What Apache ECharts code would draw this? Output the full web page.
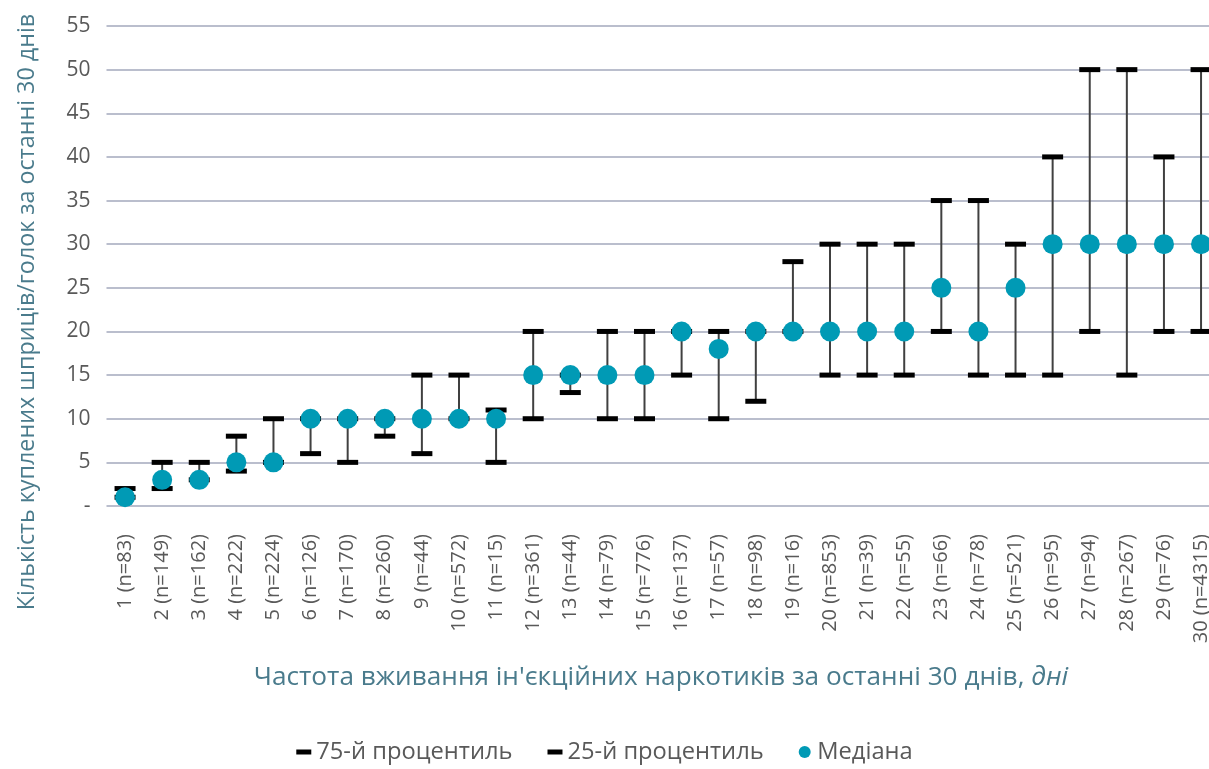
<!DOCTYPE html>
<html lang="uk">
<head>
  <meta charset="utf-8">
  <title>Шприци/голки за частотою вживання</title>
  <script src="https://cdn.jsdelivr.net/npm/echarts@6/dist/echarts.min.js"></script>
  <style>
    * { margin: 0; padding: 0; }
    #chart { width: 1209px; height: 769px; }
  </style>
</head>
<body>
  <div id="chart"></div>
  <script>
    // days of use (with sample size)
    var days = [1, 2, 3, 4, 5, 6, 7, 8, 9, 10, 11, 12, 13, 14, 15, 16, 17, 18, 19, 20, 21, 22, 23, 24, 25, 26, 27, 28, 29, 30];
    var sampleN = [83, 149, 162, 222, 224, 126, 170, 260, 44, 572, 15, 361, 44, 79, 776, 137, 57, 98, 16, 853, 39, 55, 66, 78, 521, 95, 94, 267, 76, 4315];
    var p75 = [2, 5, 5, 8, 10, 10, 10, 10, 15, 15, 11, 20, 15, 20, 20, 20, 20, 20, 28, 30, 30, 30, 35, 35, 30, 40, 50, 50, 40, 50];
    var p25 = [1, 2, 3, 4, 5, 6, 5, 8, 6, 10, 5, 10, 13, 10, 10, 15, 10, 12, 20, 15, 15, 15, 20, 15, 15, 15, 20, 15, 20, 20];
    var median = [1, 3, 3, 5, 5, 10, 10, 10, 10, 10, 10, 15, 15, 15, 15, 20, 18, 20, 20, 20, 20, 20, 25, 20, 25, 30, 30, 30, 30, 30];
    var yTicks = { min: 0, max: 55, interval: 5 };

    var categories = days.map(function (d, i) { return d + ' (n=' + sampleN[i] + ')'; });
    var ranges = days.map(function (d, i) { return [i, p25[i], p75[i]]; });

    var textGrey = '#595959';
    var titleColor = '#4a7b8c';
    var teal = '#009ab5';

    var chart = echarts.init(document.getElementById('chart'), null, { renderer: 'canvas' });

    var option = {
      animation: false,
      textStyle: { fontFamily: 'Open Sans' },
      grid: { left: 106.5, right: -10.6, top: 26, bottom: 263, outerBoundsMode: 'none', containLabel: false },
      legend: {
        bottom: 0,
        left: 'center',
        itemGap: 35,
        itemWidth: 15,
        itemHeight: 12,
        textStyle: { color: textGrey, fontSize: 23.7, fontFamily: 'Open Sans' },
        data: [
          { name: '75-й процентиль', icon: 'path://M0,0h15v5h-15z' },
          { name: '25-й процентиль', icon: 'path://M0,0h15v5h-15z' },
          { name: 'Медіана', icon: 'circle' }
        ]
      },
      xAxis: {
        type: 'category',
        data: categories,
        axisLine: { show: false },
        axisTick: { show: false },
        axisLabel: { rotate: 90, margin: 28, color: textGrey, fontSize: 20, interval: 0 }
      },
      yAxis: {
        type: 'value',
        min: yTicks.min,
        max: yTicks.max,
        interval: yTicks.interval,
        axisLine: { show: false },
        axisTick: { show: false },
        axisLabel: {
          color: textGrey, fontSize: 21, margin: 16,
          formatter: function (v) { return v === 0 ? '-' : v; }
        },
        splitLine: { lineStyle: { color: '#a3a8bd', width: 1.5 } }
      },
      graphic: [
        {
          type: 'text',
          x: 27, y: 312,
          rotation: Math.PI / 2,
          style: {
            text: 'Кількість куплених шприців/голок за останні 30 днів',
            fill: titleColor, fontSize: 23.3, fontFamily: 'Open Sans',
            align: 'center', verticalAlign: 'middle'
          }
        },
        {
          type: 'text',
          x: 661, y: 678,
          style: {
            text: "{a|Частота вживання ін'єкційних наркотиків за останні 30 днів,} {b|дні}",
            fill: titleColor, fontSize: 26.2, fontFamily: 'Open Sans',
            align: 'center', verticalAlign: 'middle',
            rich: {
              a: { fill: titleColor, fontSize: 26.2, fontFamily: 'Open Sans' },
              b: { fill: titleColor, fontSize: 26.2, fontFamily: 'Open Sans', fontStyle: 'italic' }
            }
          }
        }
      ],
      series: [
        {
          name: 'range',
          type: 'custom',
          z: 1,
          data: ranges,
          encode: { x: 0, y: [1, 2] },
          renderItem: function (params, api) {
            var lo = api.coord([api.value(0), api.value(1)]);
            var hi = api.coord([api.value(0), api.value(2)]);
            return {
              type: 'line',
              shape: { x1: lo[0], y1: lo[1], x2: hi[0], y2: hi[1] },
              style: { stroke: '#404040', lineWidth: 2 }
            };
          }
        },
        {
          name: '75-й процентиль',
          type: 'scatter',
          z: 2,
          symbol: 'rect',
          symbolSize: [21, 5],
          itemStyle: { color: '#000', opacity: 1 },
          data: p75
        },
        {
          name: '25-й процентиль',
          type: 'scatter',
          z: 2,
          symbol: 'rect',
          symbolSize: [21, 5],
          itemStyle: { color: '#000', opacity: 1 },
          data: p25
        },
        {
          name: 'Медіана',
          type: 'scatter',
          z: 3,
          symbol: 'circle',
          symbolSize: 20,
          itemStyle: { color: teal, opacity: 1 },
          data: median
        }
      ]
    };

    chart.setOption(option);
    window.addEventListener('resize', chart.resize);
  </script>
</body>
</html>
